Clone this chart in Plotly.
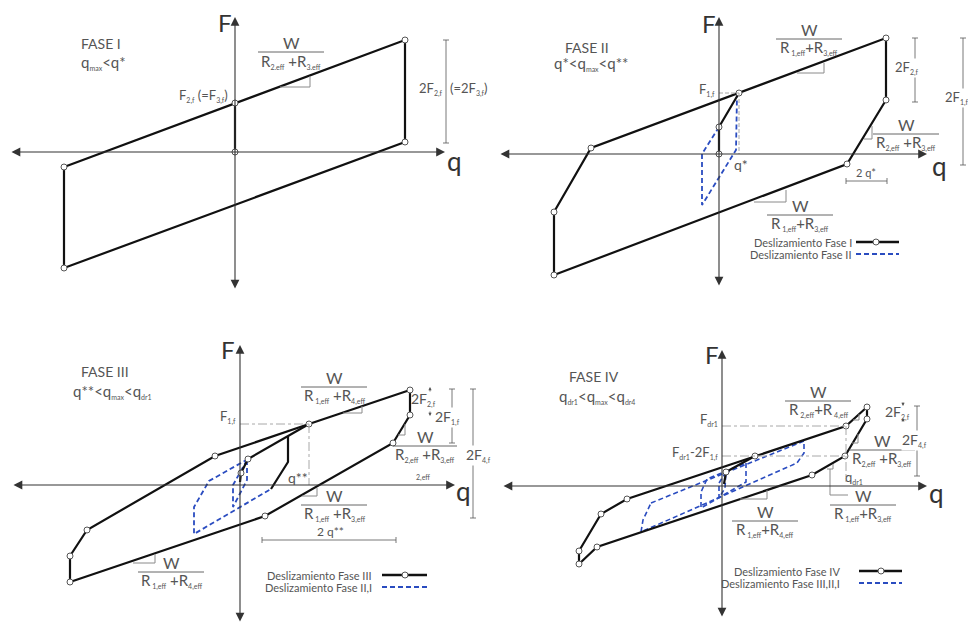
import plotly.graph_objects as go

# ---------------------------------------------------------------------------
# Force-displacement loops (q, F) for the four sliding phases.
# Units are drawing units of each panel, origin at the axes crossing.
# ---------------------------------------------------------------------------

# FASE I
P1_LOOP = [(-171, -15), (170, 112), (170, 10), (-171, -116), (-171, -15)]
P1_STICK = [(0, 49), (0, 0)]

# FASE II
P2_LOOP = [(-165, -121), (128, -10), (167, 54), (167, 116), (-128, 6),
           (-165, -58), (-165, -121)]
P2_STICK = [(0, 0), (0, 27), (20, 61)]
P2_PREV = [(0, 27), (-17, 0), (-17, -51), (17, 4), (18, 59)]
P2_F1F = 61
P2_QSTAR = 20

# FASE III
P3_LOOP = [(170, 95), (170, 70), (153, 42), (25, -31), (-170, -97), (-170, -71),
           (-153, -45), (-25, 29), (69, 61), (170, 95)]
P3_STICK_A = [(8, 26), (69, 61)]
P3_STICK_B = [(48, 49), (48, 23), (31, -4)]
P3_STICK_C = [(8, 26), (1, 12), (0, 3)]
P3_PREV_II = [(8, 26), (-31, 4), (-46, -22), (-46, -49), (31, -4)]
P3_PREV_I = [(7, 25), (-7, 0), (-7, -22), (7, 5), (7, 25)]
P3_F1F = 61
P3_QSS = 69

# FASE IV
P4_LOOP = [(145, 79), (145, 67), (123, 30), (90, 11), (-125, -61), (-143, -78),
           (-143, -65), (-121, -28), (-95, -13), (33, 30), (124, 60), (145, 79)]
P4_STICK = [(33, 30), (4, 14), (2, 2)]
P4_PREV_III = [(-71, -17), (82, 45), (82, 33), (75, 23), (-81, -46), (-79, -34), (-71, -17)]
P4_PREV_II = [(24, 23), (24, 4), (-21, -22), (-21, -6), (-15, 7), (24, 23)]
P4_PREV_I = [(4, 14), (-3, 3), (-3, -12), (3, -2), (4, 14)]
P4_FDR1 = 60
P4_FDR1_2F1 = 30
P4_QDR1 = 124

# ---------------------------------------------------------------------------
# Page layout
# ---------------------------------------------------------------------------
W, H = 968, 626
FONT = "Lato"
INK = "#111111"
AXIS = "#333333"
TXT = "#555555"
BLUE = "#2a4cc0"
GUIDE = "#a8a8a8"
TRI = "#8a8a8a"

# panel box (left, top, right, bottom) and origin, in page pixels
PANELS = {
    1: ((0, 0, 484, 313), (235, 152)),
    2: ((484, 0, 968, 313), (719, 154)),
    3: ((0, 313, 484, 626), (240, 485)),
    4: ((484, 313, 968, 626), (722, 486)),
}

fig = go.Figure()
axes_layout = {}
for i, ((x0, y0, x1, y1), (ox, oy)) in PANELS.items():
    s = "" if i == 1 else str(i)
    axes_layout["xaxis" + s] = dict(domain=[x0 / W, x1 / W], range=[x0 - ox, x1 - ox],
                                    visible=False, fixedrange=True, anchor="y" + s)
    axes_layout["yaxis" + s] = dict(domain=[1 - y1 / H, 1 - y0 / H], range=[oy - y1, oy - y0],
                                    visible=False, fixedrange=True, anchor="x" + s)


def ref(i):
    s = "" if i == 1 else str(i)
    return "x" + s, "y" + s


def poly(i, pts, color=INK, width=2.2, dash=None):
    xr, yr = ref(i)
    fig.add_trace(go.Scatter(x=[p[0] for p in pts], y=[p[1] for p in pts], mode="lines",
                             line=dict(color=color, width=width, dash=dash),
                             xaxis=xr, yaxis=yr, hoverinfo="skip", showlegend=False))


def nodes(i, pts):
    xr, yr = ref(i)
    seen = []
    for p in pts:
        if p not in seen:
            seen.append(p)
    fig.add_trace(go.Scatter(x=[p[0] for p in seen], y=[p[1] for p in seen], mode="markers",
                             marker=dict(size=6, color="white", line=dict(color="#555555", width=1)),
                             xaxis=xr, yaxis=yr, hoverinfo="skip", showlegend=False,
                             cliponaxis=False))


def seg(i, x0, y0, x1, y1, color=TRI, width=1, dash=None):
    xr, yr = ref(i)
    fig.add_shape(type="line", xref=xr, yref=yr, x0=x0, y0=y0, x1=x1, y1=y1,
                  line=dict(color=color, width=width, dash=dash))


def tri(i, pts):
    for a, b in zip(pts[:-1], pts[1:]):
        seg(i, a[0], a[1], b[0], b[1], color=TRI, width=1)


def label(i, q, f, text, size=12, anchor="center", bg=None, color=TXT):
    xr, yr = ref(i)
    fig.add_annotation(x=q, y=f, xref=xr, yref=yr, text=text, showarrow=False,
                       font=dict(family=FONT, size=size, color=color),
                       xanchor=anchor, yanchor="middle", bgcolor=bg, borderpad=0)


def arrow(i, x0, y0, x1, y1, both=True, size=1.6, width=1.1, color=AXIS):
    xr, yr = ref(i)
    fig.add_annotation(x=x1, y=y1, ax=x0, ay=y0, xref=xr, yref=yr, axref=xr, ayref=yr,
                       text="", showarrow=True, arrowhead=2, startarrowhead=2,
                       arrowside="end+start" if both else "end",
                       arrowsize=size, startarrowsize=size, arrowwidth=width,
                       arrowcolor=color, standoff=0, startstandoff=0)


def dim(i, x0, y0, x1, y1):
    seg(i, x0, y0, x1, y1, color="#555555", width=0.8)
    if x0 == x1:
        for y in (y0, y1):
            seg(i, x0 - 3, y, x0 + 3, y, color="#555555", width=0.8)
    else:
        for x in (x0, x1):
            seg(i, x, y0 - 3, x, y0 + 3, color="#555555", width=0.8)


def sub(s, size=7):
    return "<sub><span style='font-size:%dpx;color:%s'>%s</span></sub>" % (size, TXT, s)


def fraction(i, qc, fbar, den, half=33):
    label(i, qc, fbar + 10, "W", size=16)
    seg(i, qc - half, fbar, qc + half, fbar, color="#555555", width=0.9)
    label(i, qc, fbar - 9, den, size=15)


def axes(i, qmin, qmax, fmin, fmax, fpos, qpos):
    arrow(i, qmin, 0, qmax, 0)
    arrow(i, 0, fmin, 0, fmax)
    label(i, fpos[0], fpos[1], "F", size=24, color="#333333")
    label(i, qpos[0], qpos[1], "q", size=26, color="#333333")


def legend(i, q_text, f1, f2, qa, qb, qm, t1, t2):
    label(i, q_text, f1, t1, size=11, anchor="right")
    label(i, q_text, f2, t2, size=11, anchor="right")
    poly(i, [(qa, f1), (qb, f1)], width=2.4)
    nodes(i, [(qm, f1)])
    poly(i, [(qa, f2), (qb, f2)], color=BLUE, width=1.8, dash="5px,3px")


# ---------------------------------------------------------------- FASE I
axes(1, -225, 210, -138, 135, (-10, 130), (219, -9))
poly(1, P1_LOOP)
poly(1, P1_STICK)
nodes(1, P1_LOOP + P1_STICK)
tri(1, [(45, 65), (75, 65), (75, 76)])
fraction(1, 56, 100, "R" + sub("2.eff") + " +R" + sub("3.eff"))
label(1, -134, 109, "FASE I", size=14)
label(1, -132, 90, "q" + sub("max") + "&lt;q*", size=15)
label(1, -32, 56, "F" + sub("2,f") + " (=F" + sub("3,f") + ")", size=13)
dim(1, 211, 112, 211, 9)
label(1, 209, 63, "2F" + sub("2,f"), size=13, anchor="right")
label(1, 214, 63, "(=2F" + sub("3,f") + ")", size=13, anchor="left")

# ---------------------------------------------------------------- FASE II
axes(2, -220, 208, -133, 137, (-10, 131), (220, -12))
seg(2, 0, P2_F1F, P2_QSTAR, P2_F1F, color=GUIDE, width=1, dash="4px,2px")
seg(2, P2_QSTAR, P2_F1F, P2_QSTAR, 0, color=GUIDE, width=1, dash="4px,2px")
poly(2, P2_PREV, color=BLUE, width=1.8, dash="5px,3px")
poly(2, P2_LOOP)
poly(2, P2_STICK)
nodes(2, P2_LOOP + P2_STICK)
tri(2, [(78, 81), (105, 81), (105, 91)])
tri(2, [(145, 15), (153, 15), (153, 28)])
tri(2, [(35, -48), (67, -48), (67, -36)])
fraction(2, 90, 115, "R" + sub(" 1,eff") + "+R" + sub("3,eff"))
fraction(2, 187, 20, "R" + sub("2,eff") + " +R" + sub("3,eff"))
fraction(2, 81, -61, "R" + sub(" 1,eff") + "+R" + sub("3,eff"))
label(2, -132, 107, "FASE II", size=14)
label(2, -128, 91, "q*&lt;q" + sub("max") + "&lt;q**", size=15)
label(2, -3, 64, "F" + sub("1,f"), size=13, anchor="right")
label(2, 22, -10, "q*", size=14)
label(2, 147, -18, "2 q*", size=11)
dim(2, 127, -27, 168, -27)
dim(2, 196, 116, 196, 52)
label(2, 188, 86, "2F" + sub("2,f"), size=13, bg="white")
dim(2, 244, 116, 244, -11)
label(2, 238, 56, "2F" + sub("1,f"), size=13, bg="white")
legend(2, 134, -88, -100, 137, 180, 157,
       "Deslizamiento Fase I", "Deslizamiento Fase II")

# ---------------------------------------------------------------- FASE III
axes(3, -228, 215, -138, 140, (-12, 136), (223, -6))
seg(3, 0, P3_F1F, P3_QSS, P3_F1F, color=GUIDE, width=1, dash="dashdot")
seg(3, P3_QSS, P3_F1F, P3_QSS, 0, color=GUIDE, width=1, dash="dashdot")
poly(3, P3_PREV_II, color=BLUE, width=1.8, dash="5px,3px")
poly(3, P3_PREV_I, color=BLUE, width=1.8, dash="5px,3px")
poly(3, P3_LOOP)
poly(3, P3_STICK_A)
poly(3, P3_STICK_B)
poly(3, P3_STICK_C)
nodes(3, P3_LOOP + [(8, 26), (1, 12)])
tri(3, [(103, 72), (122, 72), (122, 79)])
tri(3, [(62, -11), (77, -11), (77, -3)])
tri(3, [(-107, -78), (-85, -78), (-85, -69)])
tri(3, [(158, 50), (165, 50), (165, 61)])
fraction(3, 94, 98, "R" + sub(" 1,eff") + " +R" + sub("4,eff"))
fraction(3, 94, -20, "R" + sub(" 1,eff") + " +R" + sub("3,eff"))
fraction(3, -69, -87, "R" + sub(" 1,eff") + " +R" + sub("4,eff"))
fraction(3, 185, 39, "R" + sub("2,eff") + " +R" + sub("3,eff"), half=32)
label(3, -135, 114, "FASE III", size=14)
label(3, -128, 94, "q**&lt;q" + sub("max") + "&lt;q" + sub("dr1"), size=15)
label(3, -3, 68, "F" + sub("1,f"), size=13, anchor="right")
label(3, 58, 8, "q**", size=14)
label(3, 90, -46, "2 q**", size=12)
dim(3, 22, -55, 156, -55)
label(3, 183, 86, "2F" + sub("2,f"), size=14)
arrow(3, 190, 92, 190, 98, both=False, size=0.8, width=0.8, color="#555555")
arrow(3, 190, 75, 190, 69, both=False, size=0.8, width=0.8, color="#555555")
dim(3, 212, 96, 212, 42)
label(3, 207, 68, "2F" + sub("1,f"), size=14, bg="white")
dim(3, 233, 96, 233, -33)
label(3, 238, 30, "2F" + sub("4,f"), size=14, bg="white")
label(3, 183, 8, "2,eff", size=7)
legend(3, 133, -90, -102, 142, 187, 165,
       "Deslizamiento Fase III", "Deslizamiento Fase II,I")

# ---------------------------------------------------------------- FASE IV
axes(4, -220, 205, -132, 136, (-10, 132), (214, -7))
seg(4, 0, P4_FDR1, P4_QDR1, P4_FDR1, color=GUIDE, width=1, dash="dashdot")
seg(4, 0, P4_FDR1_2F1, P4_QDR1, P4_FDR1_2F1, color=GUIDE, width=1, dash="dashdot")
seg(4, P4_QDR1, P4_FDR1, P4_QDR1, 4, color=GUIDE, width=1, dash="dashdot")
poly(4, P4_PREV_III, color=BLUE, width=1.6, dash="5px,3px")
poly(4, P4_PREV_II, color=BLUE, width=1.6, dash="5px,3px")
poly(4, P4_PREV_I, color=BLUE, width=1.6, dash="5px,3px")
poly(4, P4_LOOP)
poly(4, P4_STICK)
nodes(4, P4_LOOP + [(4, 14)])
tri(4, [(18, -13), (45, -13), (45, -4)])
tri(4, [(105, 17), (111, 17), (111, 22)])
tri(4, [(131, 66), (137, 66), (137, 72)])
tri(4, [(130, 43), (136, 43), (136, 52)])
seg(4, 108, 17, 108, -9, color=TRI, width=1)
seg(4, 108, -9, 126, -9, color=TRI, width=1)
fraction(4, 96, 85, "R" + sub(" 2,eff") + "+R" + sub(" 4,eff"))
fraction(4, 160, 36, "R" + sub("2,eff") + " +R" + sub("3,eff"))
fraction(4, 141, -19, "R" + sub(" 1,eff") + "+R" + sub("3,eff"))
fraction(4, 43, -35, "R" + sub(" 1,eff") + "+R" + sub("4,eff"))
label(4, -128, 110, "FASE IV", size=14)
label(4, -125, 90, "q" + sub("dr1") + "&lt;q" + sub("max") + "&lt;q" + sub("dr4"), size=15)
label(4, -3, 67, "F" + sub("dr1"), size=13, anchor="right")
label(4, -3, 33, "F" + sub("dr1") + "-2F" + sub("1,f"), size=13, anchor="right")
label(4, 122, 9, "q" + sub("dr1"), size=13, anchor="left")
label(4, 175, 74, "2F" + sub("2,f"), size=14)
arrow(4, 181, 85, 181, 80, both=False, size=0.8, width=0.8, color="#555555")
arrow(4, 181, 63, 181, 68, both=False, size=0.8, width=0.8, color="#555555")
dim(4, 195, 80, 195, 10)
label(4, 192, 46, "2F" + sub("4,f"), size=14, bg="white")
legend(4, 119, -85, -97, 137, 180, 159,
       "Deslizamiento Fase IV", "Deslizamiento Fase III,II,I")

fig.update_layout(width=W, height=H, margin=dict(l=0, r=0, t=0, b=0),
                  paper_bgcolor="white", plot_bgcolor="white",
                  showlegend=False, **axes_layout)
fig.write_html("out.html")
